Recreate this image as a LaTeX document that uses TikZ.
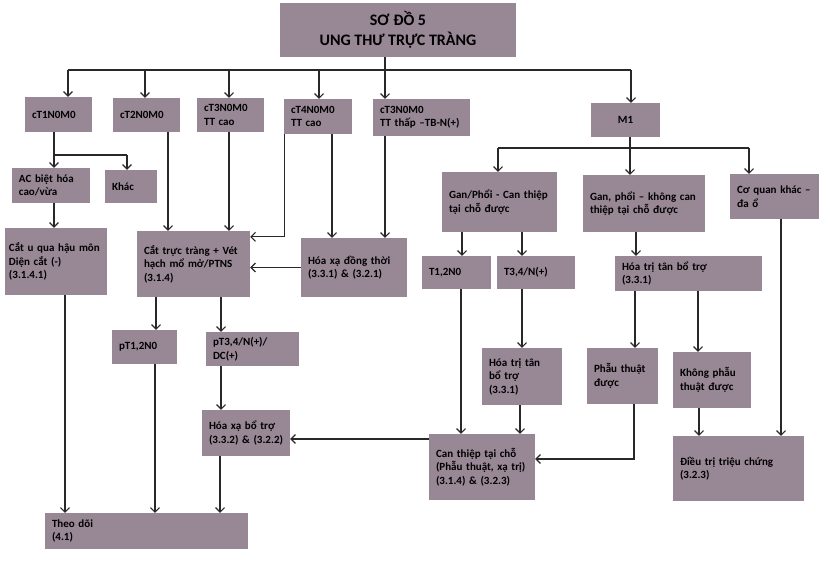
\documentclass[tikz,border=0pt]{standalone}
\usepackage{fontspec}
\setmainfont{Carlito}
\usepackage{tikz}
\usetikzlibrary{arrows.meta}
\definecolor{boxfill}{RGB}{152,135,148}
\definecolor{linegray}{RGB}{40,40,40}

\begin{document}
\begin{tikzpicture}[x=1pt, y=-1pt,
		box/.style = {fill=boxfill, align=left, inner xsep=7pt, inner ysep=0pt, font=\bfseries\fontsize{11}{13.5}\selectfont},
		line/.style = {draw=linegray, line width=1.1pt},
		arr/.style = {line, -{Straight Barb[length=4.5pt, width=9pt]}}]
			\useasboundingbox (0,0) rectangle (830,560);
			\node[box, align=center, minimum width=236pt, minimum height=54pt, font=\bfseries\fontsize{16}{20}\selectfont] (title) at (398,30) {SƠ ĐỒ 5\\UNG THƯ TRỰC TRÀNG};
			\node[box, minimum width=67pt, minimum height=35pt, text width=53pt] (ct1) at (58.5,114.5) {cT1N0M0};
			\node[box, minimum width=67pt, minimum height=34pt, text width=53pt] (ct2) at (146.5,115) {cT2N0M0};
			\node[box, minimum width=67pt, minimum height=34pt, text width=53pt] (ct3a) at (230.5,115) {cT3N0M0\\TT cao};
			\node[box, minimum width=68pt, minimum height=35pt, text width=54pt] (ct4) at (318,116.5) {cT4N0M0\\TT cao};
			\node[box, minimum width=97pt, minimum height=37pt, text width=83pt] (ct3b) at (421.5,117.5) {cT3N0M0\\TT thấp –TB-N(+)};
			\node[box, align=center, minimum width=69pt, minimum height=34pt, text width=55pt] (m1) at (625.5,120) {M1};
			\node[box, minimum width=78pt, minimum height=35pt, text width=64pt] (ac) at (51,185.5) {AC biệt hóa\\cao/vừa};
			\node[box, minimum width=52pt, minimum height=33pt, text width=38pt] (khac) at (131,186.5) {Khác};
			\node[box, inner xsep=4pt, minimum width=102pt, minimum height=67pt, text width=94pt] (catu) at (56,261.5) {Cắt u qua hậu môn\\Diện cắt (-)\\(3.1.4.1)};
			\node[box, minimum width=113pt, minimum height=66pt, text width=99pt] (cattt) at (193.5,264) {Cắt trực tràng + Vét\\hạch mổ mở/PTNS\\(3.1.4)};
			\node[box, minimum width=106pt, minimum height=59pt, text width=92pt] (hxdt) at (354,267.5) {Hóa xạ đồng thời\\(3.3.1) \& (3.2.1)};
			\node[box, minimum width=65pt, minimum height=34pt, text width=51pt] (pt12) at (144.5,347) {pT1,2N0};
			\node[box, minimum width=93pt, minimum height=34pt, text width=79pt] (pt34) at (252.5,349) {pT3,4/N(+)/\\DC(+)};
			\node[box, minimum width=88pt, minimum height=46pt, text width=74pt] (hxbt) at (246,433) {Hóa xạ bổ trợ\\(3.3.2) \& (3.2.2)};
			\node[box, minimum width=203pt, minimum height=36pt, text width=189pt] (theodoi) at (146.5,531) {Theo dõi\\(4.1)};
			\node[box, minimum width=115pt, minimum height=60pt, text width=101pt] (ganc) at (499.5,202) {Gan/Phổi - Can thiệp\\tại chỗ được};
			\node[box, minimum width=122pt, minimum height=57pt, text width=108pt] (gank) at (644,203.5) {Gan, phổi – không can\\thiệp tại chỗ được};
			\node[box, minimum width=89pt, minimum height=45pt, text width=75pt] (coq) at (774.5,196.5) {Cơ quan khác –\\đa ổ};
			\node[box, minimum width=69pt, minimum height=33pt, text width=55pt] (t12) at (456.5,272.5) {T1,2N0};
			\node[box, minimum width=78pt, minimum height=33pt, text width=64pt] (t34) at (536,272.5) {T3,4/N(+)};
			\node[box, minimum width=80pt, minimum height=57pt, text width=66pt] (htsmall) at (522,376.5) {Hóa trị tân\\bổ trợ\\(3.3.1)};
			\node[box, minimum width=147pt, minimum height=35pt, text width=133pt] (htwide) at (688.5,273.5) {Hóa trị tân bổ trợ\\(3.3.1)};
			\node[box, minimum width=71pt, minimum height=56pt, text width=57pt] (ptd) at (622.5,376) {Phẫu thuật\\được};
			\node[box, minimum width=78pt, minimum height=56pt, text width=64pt] (kptd) at (712,380) {Không phẫu\\thuật được};
			\node[box, minimum width=106pt, minimum height=66pt, text width=92pt] (canthiep) at (482,467) {Can thiệp tại chỗ\\(Phẫu thuật, xạ trị)\\(3.1.4) \& (3.2.3)};
			\node[box, minimum width=131pt, minimum height=65pt, text width=117pt] (dieutri) at (738.5,468.5) {Điều trị triệu chứng\\(3.2.3)};

			\coordinate (b1) at (68,70);
			\coordinate (b2) at (145,70);
			\coordinate (b3) at (229,70);
			\coordinate (b4) at (319,70);
			\coordinate (b5) at (385,70);
			\coordinate (b6) at (631,70);
			\draw[line] (b1) -- (b6);
			\draw[arr] (title.south -| b5) -- (b5 |- ct3b.north);
			\draw[arr] (b1) -- (b1 |- ct1.north);
			\draw[arr] (b2) -- (b2 |- ct2.north);
			\draw[arr] (b3) -- (b3 |- ct3a.north);
			\draw[arr] (b4) -- (b4 |- ct4.north);
			\draw[arr] (b6) -- (b6 |- m1.north);

			\coordinate (s1) at (54,155);
			\coordinate (s2) at (127,155);
			\draw[line] (s1 |- ct1.south) -- (s1) -- (s2);
			\draw[arr] (s1) -- (s1 |- ac.north);
			\draw[arr] (s2) -- (s2 |- khac.north);
			\draw[arr] (s1 |- ac.south) -- (s1 |- catu.north);
			\draw[arr] ([xshift=9pt]catu.south) -- ([xshift=9pt]catu.south |- theodoi.north);

			\draw[arr] ([xshift=21.5pt]ct2.south) -- ([xshift=21.5pt]ct2.south |- cattt.north);
			\draw[arr] (ct3a.south -| b3) -- (b3 |- cattt.north);
			\draw[arr] ([xshift=1pt]ct4.south west) |- ([yshift=-6pt]cattt.north east);
			\draw[arr] ([xshift=14pt]ct4.south) -- ([xshift=14pt]ct4.south |- hxdt.north);
			\draw[arr] (b5 |- ct3b.south) -- (b5 |- hxdt.north);
			\draw[arr] (hxdt.west) -- (hxdt.west -| cattt.east);

			\draw[arr] ([xshift=11.5pt]pt12.north |- cattt.south) -- ([xshift=11.5pt]pt12.north);
			\draw[arr] ([xshift=-31.5pt]pt34.north |- cattt.south) -- ([xshift=-31.5pt]pt34.north);
			\draw[arr] ([xshift=10.5pt]pt12.south) -- ([xshift=10.5pt]pt12.south |- theodoi.north);
			\draw[arr] ([xshift=-31.5pt]pt34.south) -- ([xshift=-31.5pt]pt34.south |- hxbt.north);
			\draw[arr] ([xshift=-26pt]hxbt.south) -- ([xshift=-26pt]hxbt.south |- theodoi.north);
			\draw[arr] ([yshift=-6pt]hxbt.east -| canthiep.west) -- ([yshift=-6pt]hxbt.east);

			\coordinate (r1) at (498,148);
			\coordinate (r2) at (630,148);
			\coordinate (r3) at (749,148);
			\draw[line] (r2 |- m1.south) -- (r2);
			\draw[line] (r1) -- (r3);
			\draw[arr] (r1) -- (r1 |- ganc.north);
			\draw[arr] (r2) -- (r2 |- gank.north);
			\draw[arr] (r3) -- (r3 |- coq.north);

			\draw[arr] ([xshift=5.5pt]t12.north |- ganc.south) -- ([xshift=5.5pt]t12.north);
			\draw[arr] ([xshift=-14pt]t34.north |- ganc.south) -- ([xshift=-14pt]t34.north);
			\draw[arr] (htsmall.north |- t34.south) -- (htsmall.north);
			\draw[arr] ([xshift=-2pt]htsmall.south) -- ([xshift=-2pt]htsmall.south |- canthiep.north);
			\draw[arr] ([xshift=4.5pt]t12.south) -- ([xshift=4.5pt]t12.south |- canthiep.north);

			\draw[arr] ([xshift=-8pt]gank.south) -- ([xshift=-8pt]gank.south |- htwide.north);
			\draw[arr] ([xshift=12.5pt]ptd.north |- htwide.south) -- ([xshift=12.5pt]ptd.north);
			\draw[arr] ([xshift=-14pt]kptd.north |- htwide.south) -- ([xshift=-14pt]kptd.north);
			\draw[arr] ([xshift=11.5pt]ptd.south) |- ([yshift=8pt]canthiep.east);
			\draw[arr] ([xshift=-13pt]kptd.south) -- ([xshift=-13pt]kptd.south |- dieutri.north);
			\draw[arr] ([xshift=6.5pt]coq.south) -- ([xshift=6.5pt]coq.south |- dieutri.north);
		\end{tikzpicture}
\end{document}
